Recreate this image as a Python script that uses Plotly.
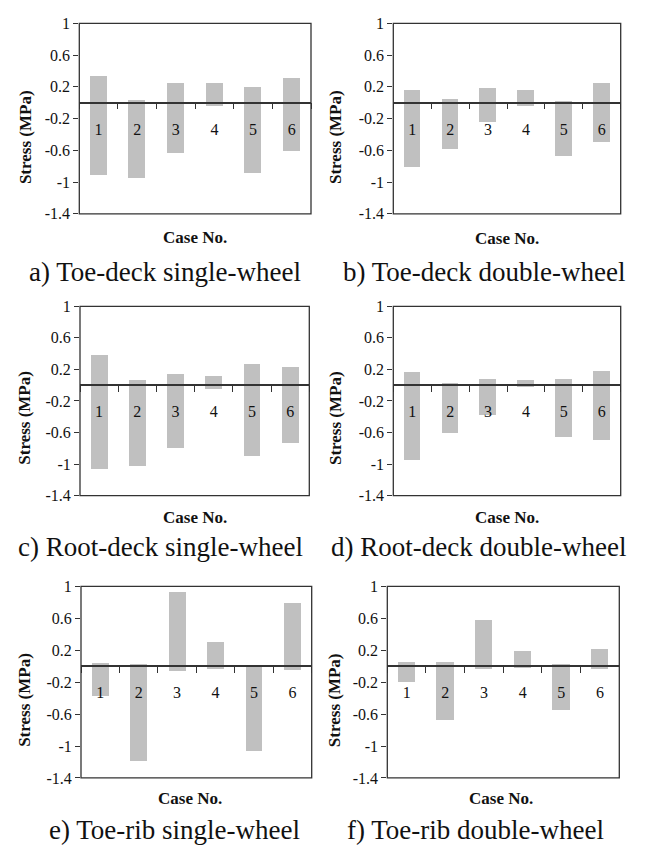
import plotly.graph_objects as go

# Case numbers along the x axis
cases = ["1", "2", "3", "4", "5", "6"]

# Stress ranges (MPa): lower and upper bound per case
toe_deck_single_low = [-0.92, -0.95, -0.64, -0.05, -0.89, -0.61]
toe_deck_single_high = [0.33, 0.03, 0.25, 0.25, 0.19, 0.31]

toe_deck_double_low = [-0.82, -0.59, -0.25, -0.04, -0.68, -0.50]
toe_deck_double_high = [0.16, 0.04, 0.18, 0.15, 0.02, 0.24]

root_deck_single_low = [-1.06, -1.03, -0.80, -0.05, -0.90, -0.73]
root_deck_single_high = [0.38, 0.06, 0.14, 0.11, 0.27, 0.23]

root_deck_double_low = [-0.95, -0.61, -0.38, -0.03, -0.66, -0.70]
root_deck_double_high = [0.16, 0.02, 0.07, 0.06, 0.08, 0.18]

toe_rib_single_low = [-0.38, -1.19, -0.07, -0.04, -1.07, -0.05]
toe_rib_single_high = [0.03, 0.02, 0.92, 0.30, 0.01, 0.79]

toe_rib_double_low = [-0.20, -0.68, -0.045, -0.03, -0.55, -0.045]
toe_rib_double_high = [0.05, 0.05, 0.57, 0.18, 0.02, 0.21]

captions = [
    "a) Toe-deck single-wheel", "b) Toe-deck double-wheel",
    "c) Root-deck single-wheel", "d) Root-deck double-wheel",
    "e) Toe-rib single-wheel", "f) Toe-rib double-wheel",
]

y_tickvals = [1, 0.6, 0.2, -0.2, -0.6, -1, -1.4]
y_ticktext = ["1", "0.6", "0.2", "-0.2", "-0.6", "-1", "-1.4"]
y_min, y_max = -1.4, 1.0

series = [
    (toe_deck_single_low, toe_deck_single_high),
    (toe_deck_double_low, toe_deck_double_high),
    (root_deck_single_low, root_deck_single_high),
    (root_deck_double_low, root_deck_double_high),
    (toe_rib_single_low, toe_rib_single_high),
    (toe_rib_double_low, toe_rib_double_high),
]

W, H = 650, 859

# Plot-area boxes in pixels: (left, right, top, bottom)
boxes = [
    (79.3, 311.0, 15.7, 210.0),
    (393.3, 620.7, 15.7, 210.0),
    (80.0, 309.3, 304.3, 497.5),
    (393.3, 620.7, 304.3, 497.5),
    (81.0, 311.7, 590.0, 785.5),
    (387.3, 619.3, 590.0, 785.5),
]
ytitle_pos = [(25, 131.7), (335.3, 131.3), (25, 418), (335.3, 418), (25, 705.8), (335.3, 705.8)]
xtitle_pos = [(195.3, 234), (507, 235), (195, 520), (507, 520), (190, 806.7), (501, 806)]
caption_pos = [(165, 269), (484.5, 269), (160, 550), (478, 550), (174, 839), (475, 839)]

SERIF = "Liberation Serif"
BAR_COLOR = "#c0c0c0"
LINE_COLOR = "#333333"

fig = go.Figure()
layout = dict(
    width=W, height=H,
    margin=dict(l=0, r=0, t=0, b=0),
    paper_bgcolor="white", plot_bgcolor="white",
    showlegend=False, bargap=0,
    font=dict(family=SERIF, color="#111111"),
)
shapes, annotations = [], []

for i, ((low, high), (l, r, t, b)) in enumerate(zip(series, boxes)):
    n = i + 1
    xa = "x" if n == 1 else f"x{n}"
    ya = "y" if n == 1 else f"y{n}"
    fig.add_trace(go.Bar(
        x=cases,
        y=[hi - lo for lo, hi in zip(low, high)],
        base=low,
        width=0.44,
        marker=dict(color=BAR_COLOR, line=dict(width=0)),
        xaxis=xa, yaxis=ya,
        hovertemplate="Case %{x}<extra></extra>",
    ))
    yd = [1 - b / H, 1 - t / H]
    zero_frac = yd[0] + (0 - y_min) / (y_max - y_min) * (yd[1] - yd[0])
    # category axis drawn along the zero line, ticks between cases
    layout["xaxis" if n == 1 else f"xaxis{n}"] = dict(
        domain=[l / W, r / W],
        type="category",
        range=[-0.5, 5.5],
        anchor="free", position=zero_frac,
        showline=True, linecolor=LINE_COLOR, linewidth=1.5,
        ticks="outside", tickson="boundaries", ticklen=6,
        tickcolor=LINE_COLOR, tickwidth=1.2,
        tickfont=dict(family=SERIF, size=16, color="#111111"),
        ticklabelstandoff=12,
        showgrid=False, zeroline=False, fixedrange=True,
    )
    layout["yaxis" if n == 1 else f"yaxis{n}"] = dict(
        domain=yd,
        anchor=xa,
        range=[y_min, y_max],
        tickmode="array", tickvals=y_tickvals, ticktext=y_ticktext,
        ticks="outside", ticklen=5, tickcolor=LINE_COLOR, tickwidth=1.2,
        tickfont=dict(family=SERIF, size=16, color="#111111"),
        showline=False,
        showgrid=False, zeroline=False, fixedrange=True,
    )
    # plot-area frame
    shapes.append(dict(
        type="rect", xref=f"{xa} domain", yref=f"{ya} domain",
        x0=0, x1=1, y0=0, y1=1,
        line=dict(color=LINE_COLOR, width=1.3), layer="above",
    ))
    tx, ty = ytitle_pos[i]
    annotations.append(dict(
        text="<b>Stress (MPa)</b>", textangle=-90,
        x=tx / W, y=1 - ty / H, xref="paper", yref="paper",
        xanchor="center", yanchor="middle", showarrow=False,
        font=dict(family=SERIF, size=17, color="#111111"),
    ))
    cx, cy = xtitle_pos[i]
    annotations.append(dict(
        text="<b>Case No.</b>",
        x=cx / W, y=1 - cy / H, xref="paper", yref="paper",
        xanchor="center", yanchor="middle", showarrow=False,
        font=dict(family=SERIF, size=17, color="#111111"),
    ))
    px, py = caption_pos[i]
    annotations.append(dict(
        text=captions[i],
        x=px / W, y=1 - py / H, xref="paper", yref="paper",
        xanchor="center", yanchor="middle", showarrow=False,
        font=dict(family=SERIF, size=27, color="#111111"),
    ))

layout["shapes"] = shapes
layout["annotations"] = annotations
fig.update_layout(**layout)
fig.write_html("out.html")
